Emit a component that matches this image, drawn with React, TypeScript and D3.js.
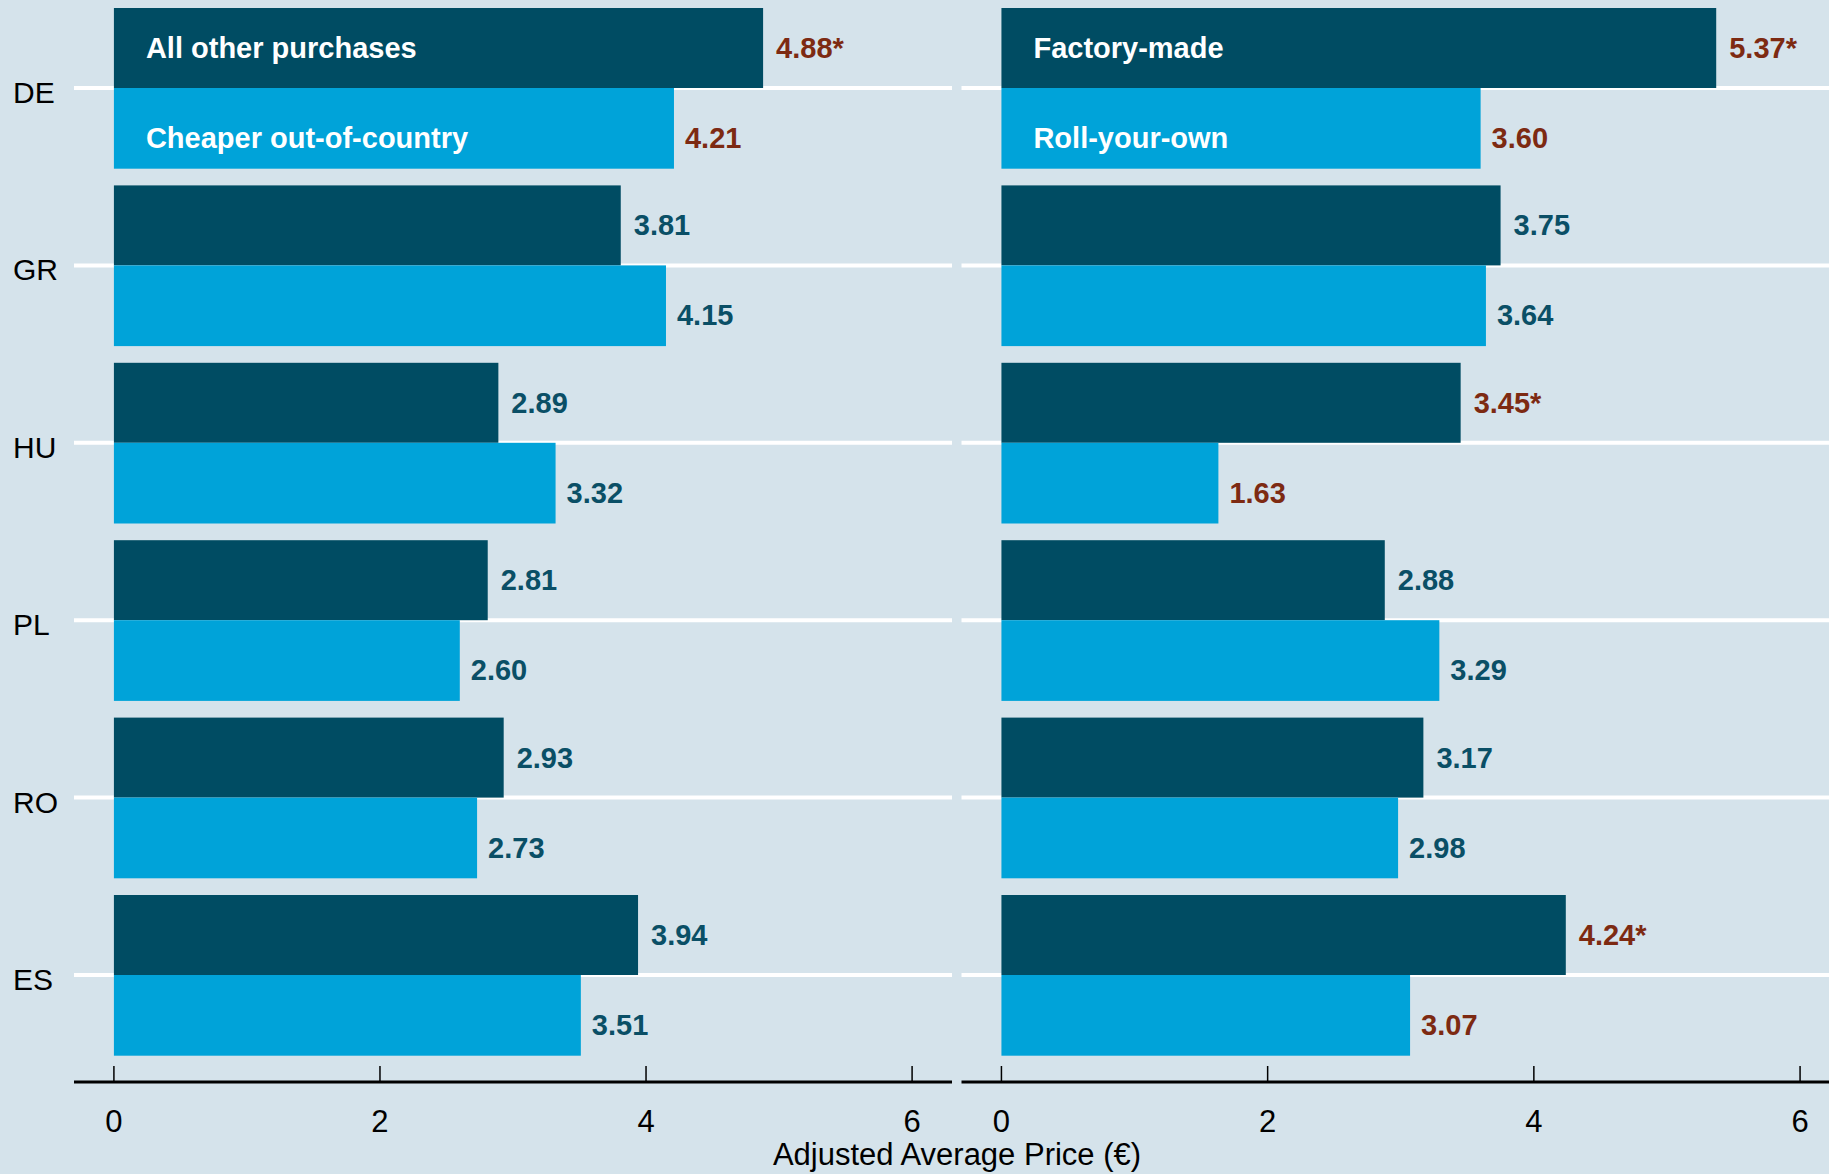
import React from "react";
import * as d3 from "d3";

const countries = ["DE", "GR", "HU", "PL", "RO", "ES"];
const leftDark = [4.88, 3.81, 2.89, 2.81, 2.93, 3.94];
const leftLight = [4.21, 4.15, 3.32, 2.6, 2.73, 3.51];
const rightDark = [5.37, 3.75, 3.45, 2.88, 3.17, 4.24];
const rightLight = [3.6, 3.64, 1.63, 3.29, 2.98, 3.07];
const leftDarkStar = [true, false, false, false, false, false];
const leftLightFlag = [true, false, false, false, false, false];
const leftDarkFlag = [true, false, false, false, false, false];
const rightDarkStar = [true, false, true, false, false, true];
const rightDarkFlag = [true, false, true, false, false, true];
const rightLightFlag = [true, false, true, false, false, true];
const leftLightStar = [false, false, false, false, false, false];
const rightLightStar = [false, false, false, false, false, false];
const panelNames = [
  ["All other purchases", "Cheaper out-of-country"],
  ["Factory-made", "Roll-your-own"],
];
const ticks = [0, 2, 4, 6];
const axisTitle = "Adjusted Average Price (€)";

const W = 1829;
const H = 1174;
const BG = "#d5e3eb";
const DARK = "#004c63";
const LIGHT = "#00a3d9";
const TEAL = "#0a4f66";
const RED = "#7d2a12";
const FONT = "Liberation Sans, Arial, sans-serif";

export default function App() {
  const y = d3.scalePoint<string>().domain(countries).range([88, 975]);
  const barH = 80;
  const axisY = 1082;
  const panels = [
    {
      x: d3.scaleLinear().domain([-0.3, 6.3]).range([74, 952]),
      dark: leftDark,
      light: leftLight,
      darkStar: leftDarkStar,
      lightStar: leftLightStar,
      darkFlag: leftDarkFlag,
      lightFlag: leftLightFlag,
      names: panelNames[0],
      clipRight: 952,
    },
    {
      x: d3.scaleLinear().domain([-0.3, 6.3]).range([961.5, 1840]),
      dark: rightDark,
      light: rightLight,
      darkStar: rightDarkStar,
      lightStar: rightLightStar,
      darkFlag: rightDarkFlag,
      lightFlag: rightLightFlag,
      names: panelNames[1],
      clipRight: W,
    },
  ];

  return (
    <svg
      width={W}
      height={H}
      style={{ position: "absolute", left: 0, top: 0, display: "block" }}
      fontFamily={FONT}
    >
      <rect x={0} y={0} width={W} height={H} fill={BG} />
      {countries.map((c) => (
        <text key={c} x={13} y={(y(c) as number) + 15} fontSize={30} fill="#000">
          {c}
        </text>
      ))}
      {panels.map((p, pi) => {
        const [x0, x1] = p.x.range();
        const right = Math.min(x1, p.clipRight);
        return (
          <g key={pi}>
            {countries.map((c) => (
              <line
                key={c}
                x1={x0}
                x2={right}
                y1={y(c)}
                y2={y(c)}
                stroke="#fff"
                strokeWidth={4}
              />
            ))}
            {countries.map((c, i) => {
              const cy = y(c) as number;
              const zero = p.x(0);
              const xd = p.x(p.dark[i]);
              const xl = p.x(p.light[i]);
              return (
                <g key={c}>
                  <rect x={zero} y={cy - barH} width={xd - zero} height={barH} fill={DARK} />
                  <rect x={zero} y={cy} width={xl - zero} height={barH + 0.7} fill={LIGHT} />
                  <text
                    x={xd + 13}
                    y={cy - barH / 2 + 10}
                    fontSize={29}
                    fontWeight="bold"
                    fill={p.darkFlag[i] ? RED : TEAL}
                  >
                    {p.dark[i].toFixed(2) + (p.darkStar[i] ? "*" : "")}
                  </text>
                  <text
                    x={xl + 11}
                    y={cy + barH / 2 + 20}
                    fontSize={29}
                    fontWeight="bold"
                    fill={p.lightFlag[i] ? RED : TEAL}
                  >
                    {p.light[i].toFixed(2) + (p.lightStar[i] ? "*" : "")}
                  </text>
                  {i === 0 && (
                    <>
                      <text
                        x={zero + 32}
                        y={cy - barH / 2 + 10}
                        fontSize={29}
                        fontWeight="bold"
                        fill="#fff"
                      >
                        {p.names[0]}
                      </text>
                      <text
                        x={zero + 32}
                        y={cy + barH / 2 + 20}
                        fontSize={29}
                        fontWeight="bold"
                        fill="#fff"
                      >
                        {p.names[1]}
                      </text>
                    </>
                  )}
                </g>
              );
            })}
            <line x1={x0} x2={right} y1={axisY} y2={axisY} stroke="#000" strokeWidth={3} />
            {ticks.map((t) => (
              <g key={t}>
                <line
                  x1={p.x(t)}
                  x2={p.x(t)}
                  y1={axisY - 16}
                  y2={axisY}
                  stroke="#000"
                  strokeWidth={1.5}
                />
                <text
                  x={p.x(t)}
                  y={1132}
                  fontSize={31}
                  textAnchor="middle"
                  fill="#000"
                >
                  {t}
                </text>
              </g>
            ))}
          </g>
        );
      })}
      <text x={957} y={1165} fontSize={31} textAnchor="middle" fill="#000">
        {axisTitle}
      </text>
    </svg>
  );
}
